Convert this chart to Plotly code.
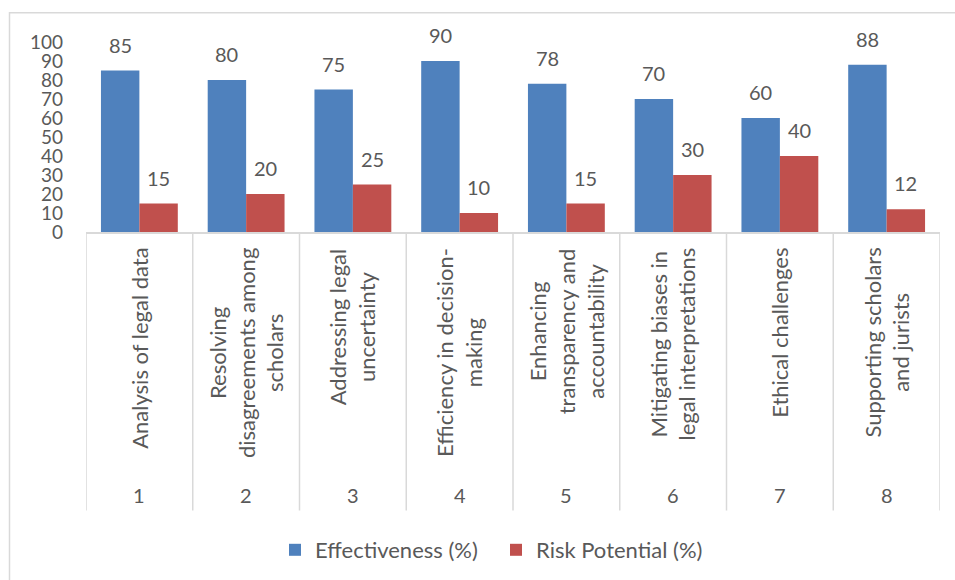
import plotly.graph_objects as go

# ---- data ----
categories = [
    "Analysis of legal data",
    "Resolving<br>disagreements among<br>scholars",
    "Addressing legal<br>uncertainty",
    "Efficiency in decision-<br>making",
    "Enhancing<br>transparency and<br>accountability",
    "Mitigating biases in<br>legal interpretations",
    "Ethical challenges",
    "Supporting scholars<br>and jurists",
]
numbers = ["1", "2", "3", "4", "5", "6", "7", "8"]
effectiveness = [85, 80, 75, 90, 78, 70, 60, 88]
risk = [15, 20, 25, 10, 15, 30, 40, 12]
y_ticks = [0, 10, 20, 30, 40, 50, 60, 70, 80, 90, 100]

# ---- style / layout ----
W, H = 955, 580
PL, PR, PT, PB = 86, 940, 42, 233  # plot area in px
BLUE = "#4F81BD"
RED = "#C0504D"
TXT = "#595959"
LINE = "#D9D9D9"
FONT = "Lato"
FS = 20
FS_TICK = 19
FS_CAT = 22
FS_LEG = 22

def px_x(px):
    return (px - PL) / (PR - PL)

def px_y(py):
    return (PB - py) / (PB - PT)

pos = list(range(1, len(categories) + 1))
BW = 0.36

fig = go.Figure()
fig.add_trace(go.Bar(name="Effectiveness (%)", x=pos, y=effectiveness, width=BW,
                     offset=-BW, marker=dict(color=BLUE, line=dict(width=0))))
fig.add_trace(go.Bar(name="Risk Potential (%)", x=pos, y=risk, width=BW,
                     offset=0, marker=dict(color=RED, line=dict(width=0))))

annotations = []
for p, v in zip(pos, effectiveness):
    annotations.append(dict(x=p - BW / 2, y=v, xref="x", yref="y", text=str(v),
                            showarrow=False, yshift=26, yanchor="middle",
                            font=dict(family=FONT, size=FS, color=TXT)))
for p, v in zip(pos, risk):
    annotations.append(dict(x=p + BW / 2, y=v, xref="x", yref="y", text=str(v),
                            showarrow=False, yshift=26, yanchor="middle",
                            font=dict(family=FONT, size=FS, color=TXT)))
for p, c in zip(pos, categories):
    annotations.append(dict(x=p, y=px_y(247), xref="x", yref="paper", text=c,
                            showarrow=False, textangle=-90, yanchor="top",
                            xanchor="center", align="center",
                            font=dict(family=FONT, size=FS_CAT, color=TXT)))
for p, n in zip(pos, numbers):
    annotations.append(dict(x=p, y=px_y(497), xref="x", yref="paper", text=n,
                            showarrow=False, yanchor="middle", xanchor="center",
                            font=dict(family=FONT, size=FS, color=TXT)))

shapes = []
for b in [p - 0.5 for p in pos] + [pos[-1] + 0.5]:
    shapes.append(dict(type="line", xref="x", yref="paper", x0=b, x1=b,
                       y0=0, y1=px_y(513), line=dict(color=LINE, width=1.5)))
shapes.append(dict(type="rect", xref="paper", yref="paper",
                   x0=px_x(9.5), x1=px_x(970), y0=px_y(12.5), y1=px_y(600),
                   line=dict(color=LINE, width=1.5), layer="below"))

fig.update_layout(
    width=W, height=H,
    margin=dict(l=PL, r=W - PR, t=PT, b=H - PB, pad=0),
    paper_bgcolor="white", plot_bgcolor="white",
    barmode="overlay",
    showlegend=True,
    legend=dict(orientation="h", x=px_x(275), xanchor="left",
                y=px_y(550), yanchor="middle",
                entrywidth=176, entrywidthmode="pixels",
                font=dict(family=FONT, size=FS_LEG, color=TXT),
                itemsizing="constant", traceorder="normal"),
    xaxis=dict(range=[0.5, len(pos) + 0.5], showticklabels=False, ticks="",
               showgrid=False, zeroline=False, showline=True,
               linecolor=LINE, linewidth=1.5),
    yaxis=dict(range=[0, 100], tickvals=y_ticks, showgrid=False, zeroline=False,
               showline=False, ticks="", ticklabelstandoff=22,
               tickfont=dict(family=FONT, size=FS_TICK, color=TXT)),
    annotations=annotations,
    shapes=shapes,
)

fig.write_html("out.html")
